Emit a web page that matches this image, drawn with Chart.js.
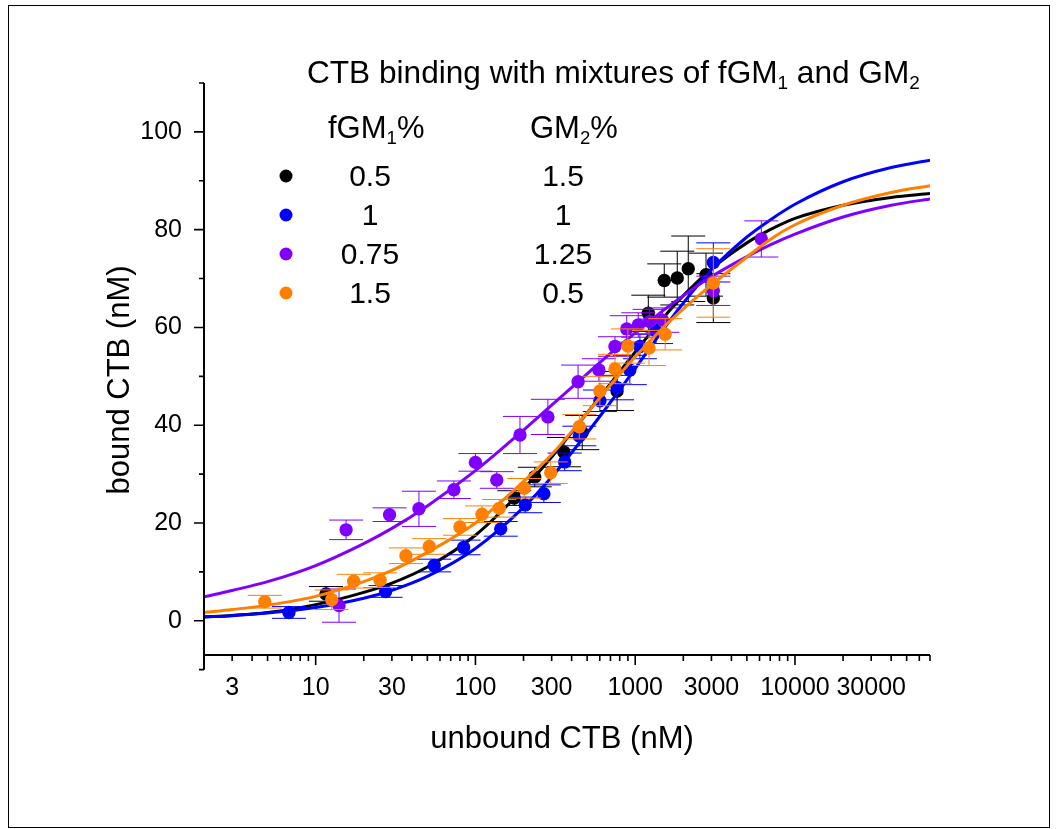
<!DOCTYPE html>
<html><head><meta charset="utf-8">
<script src="https://cdn.jsdelivr.net/npm/chart.js@4.4.1/dist/chart.umd.min.js"></script>
<style>
html,body{margin:0;padding:0;background:#fff;}
#wrap{position:relative;width:1059px;height:829px;overflow:hidden;font-family:"Liberation Sans",Arial,sans-serif;color:#000;}
#c{position:absolute;left:0;top:0;}
.frame{position:absolute;left:8px;top:5px;width:1042px;height:823px;border:1px solid #000;box-sizing:border-box;}
.t{position:absolute;white-space:nowrap;line-height:1;}
.cc{transform:translate(-50%,-50%);}
.vc{transform:translate(0,-50%);}
.sub{font-size:0.6em;vertical-align:-0.3em;}
.dot{position:absolute;width:13px;height:13px;border-radius:50%;transform:translate(-50%,-50%);}
</style></head><body>
<div id="wrap">
<canvas id="c" width="1059" height="829"></canvas>
<div class="frame"></div>
<div class="t vc" style="left:307px;top:75px;font-size:31.6px;">CTB binding with mixtures of fGM<span class="sub">1</span> and GM<span class="sub">2</span></div>
<div class="t vc" style="left:328px;top:130px;font-size:31px;">fGM<span class="sub">1</span>%</div>
<div class="t vc" style="left:530px;top:130px;font-size:31px;">GM<span class="sub">2</span>%</div>
<div class="t cc" style="left:562px;top:737px;font-size:31px;">unbound CTB (nM)</div>
<div class="t" style="left:118px;top:380px;font-size:31px;transform:translate(-50%,-50%) rotate(-90deg);">bound CTB (nM)</div>
<div id="legend"></div>
</div>
<script>
// ---- data ----
const seriesNames = ['fGM1 0.5 / GM2 1.5','fGM1 1 / GM2 1','fGM1 0.75 / GM2 1.25','fGM1 1.5 / GM2 0.5'];
const legendFGM = ['0.5','1','0.75','1.5'];
const legendGM  = ['1.5','1','1.25','0.5'];
const seriesColors = ['#000000','#0000FF','#8000FF','#FF8000'];

// black: fGM1 0.5 %, GM2 1.5 %
const blackX = [11.6, 175, 235, 358, 466, 770, 1208, 1520, 1833, 2148, 2775, 3083];
const blackY = [5.5, 25.1, 29.4, 34.5, 38.5, 47.0, 62.9, 69.6, 70.1, 72.0, 70.8, 66.0];
const blackErr = [1.5, 1.5, 2.0, 3.0, 3.5, 4.0, 3.7, 3.4, 5.5, 6.7, 4.4, 5.0];
// blue: fGM1 1 %, GM2 1 %
const blueX = [6.8, 27.4, 55.2, 84.3, 144, 205, 268, 362, 447, 601, 770, 925, 1070, 1350, 3083];
const blueY = [1.7, 6.0, 11.3, 15.0, 18.8, 23.7, 26.0, 32.5, 37.8, 45.0, 47.7, 51.3, 56.1, 59.2, 73.3];
const blueErr = [1.2, 1.2, 1.3, 1.5, 1.5, 1.6, 1.8, 1.8, 2.0, 2.2, 2.5, 3.0, 2.5, 2.5, 4.0];
// purple: fGM1 0.75 %, GM2 1.25 %
const purpleX = [14, 15.5, 29, 44.3, 73.3, 100, 136, 190, 284, 439, 593, 747, 885, 1045, 1232, 1480, 3083, 6157];
const purpleY = [3.1, 18.6, 21.7, 22.9, 26.8, 32.4, 28.8, 38.0, 41.7, 48.9, 51.3, 56.1, 59.7, 60.5, 61.2, 61.5, 67.5, 78.1];
const purpleErr = [3.4, 2.0, 1.4, 3.6, 1.8, 1.8, 1.7, 3.8, 3.6, 3.4, 2.3, 2.0, 2.7, 2.5, 2.5, 2.5, 3.0, 3.7];
// orange: fGM1 1.5 %, GM2 0.5 %
const orangeX = [4.8, 12.6, 17.3, 25.3, 36.7, 51.4, 80, 110, 141, 202, 296, 447, 601, 747, 900, 1220, 1540, 3083];
const orangeY = [3.9, 4.3, 8.1, 8.3, 13.3, 15.2, 19.2, 21.8, 23.0, 27.1, 30.3, 39.7, 47.0, 51.5, 56.2, 55.8, 58.6, 69.1];
const orangeErr = [1.3, 2.0, 1.4, 1.5, 1.6, 1.6, 1.7, 1.7, 1.8, 2.0, 2.2, 2.5, 3.0, 3.0, 3.5, 3.6, 3.2, 7.0];

// fitted curves at these x values
const curveX = [2, 3, 5, 10, 20, 30, 50, 100, 200, 300, 500, 700, 1000, 1500, 2000, 3000, 5000, 7000, 10000, 20000, 40000, 70000];
const blackCurve  = [0.8, 1.1, 1.7, 3.3, 5.8, 7.7, 11, 17.5, 27, 33.5, 42.5, 48.5, 55, 62, 66.5, 72, 77.3, 80.0, 82.3, 85.0, 86.6, 87.4];
const blueCurve   = [0.76, 1.05, 1.57, 2.7, 4.6, 6.25, 9.1, 14.8, 23.2, 29.4, 38.4, 44.7, 51.6, 59.6, 65.0, 71.8, 78.5, 82.0, 85.2, 89.8, 92.7, 94.2];
const purpleCurve = [4.9, 6.2, 8.0, 11.3, 15.8, 18.9, 23.5, 30.7, 39.0, 44.1, 50.5, 54.7, 58.9, 63.5, 66.5, 70.4, 74.5, 76.9, 79.1, 82.6, 85.0, 86.3];
const orangeCurve = [1.7, 2.3, 3.2, 5.0, 8.0, 10.3, 14, 20, 28.5, 34, 42.5, 48.2, 54, 60, 63.8, 68.7, 74.4, 78.0, 81, 85, 87.6, 89];

// axes
const xTickLabels = [3, 10, 30, 100, 300, 1000, 3000, 10000, 30000];
const yTickLabels = [0, 20, 40, 60, 80, 100];
const X_MIN = 2, X_MAX = 70000;
const Y_MIN = -7, Y_MAX = 110, Y_AXIS_EXT = -10;

const series = [
  {x: blackX, y: blackY, e: blackErr, curve: blackCurve},
  {x: blueX, y: blueY, e: blueErr, curve: blueCurve},
  {x: purpleX, y: purpleY, e: purpleErr, curve: purpleCurve},
  {x: orangeX, y: orangeY, e: orangeErr, curve: orangeCurve}
];

// legend (HTML text)
const leg = document.getElementById('legend');
const rowY = [176, 215, 254, 293];
legendFGM.forEach((v, i) => {
  const d = document.createElement('div'); d.className = 'dot';
  d.style.left = '286px'; d.style.top = rowY[i] + 'px'; d.style.background = seriesColors[i];
  leg.appendChild(d);
  const a = document.createElement('div'); a.className = 't cc';
  a.style.cssText += 'left:370px;top:' + rowY[i] + 'px;font-size:30px;'; a.textContent = v; leg.appendChild(a);
  const b = document.createElement('div'); b.className = 't cc';
  b.style.cssText += 'left:563px;top:' + rowY[i] + 'px;font-size:30px;'; b.textContent = legendGM[i]; leg.appendChild(b);
});

const FONT = '"Liberation Sans", Arial, sans-serif';
const datasets = [];
series.forEach((s, i) => {
  datasets.push({
    label: seriesNames[i] + ' points',
    data: s.x.map((x, j) => ({x: x, y: s.y[j]})),
    showLine: false, pointRadius: 6.7, pointBorderWidth: 0,
    backgroundColor: seriesColors[i], borderColor: seriesColors[i],
    errY: s.e, order: 8 - 2 * i
  });
  datasets.push({
    label: seriesNames[i] + ' fit',
    data: curveX.map((x, j) => ({x: x, y: s.curve[j]})),
    showLine: true, pointRadius: 0, borderWidth: 3, borderColor: seriesColors[i],
    backgroundColor: seriesColors[i], cubicInterpolationMode: 'monotone', fill: false,
    order: 7 - 2 * i
  });
});

const errorBars = {
  id: 'errorBars',
  beforeDatasetDraw(chart, args) {
    const ds = chart.data.datasets[args.index];
    if (!ds.errY) return;
    const xs = chart.scales.x, ys = chart.scales.y, ctx = chart.ctx;
    ctx.save();
    ctx.strokeStyle = ds.borderColor; ctx.lineWidth = 1;
    ds.data.forEach((p, j) => {
      const px = xs.getPixelForValue(p.x);
      const y1 = ys.getPixelForValue(p.y + ds.errY[j]);
      const y2 = ys.getPixelForValue(p.y - ds.errY[j]);
      const cw = 17;
      ctx.beginPath();
      ctx.moveTo(px, y1); ctx.lineTo(px, y2);
      ctx.moveTo(px - cw, y1); ctx.lineTo(px + cw, y1);
      ctx.moveTo(px - cw, y2); ctx.lineTo(px + cw, y2);
      ctx.stroke();
    });
    ctx.restore();
  }
};

const axisDecor = {
  id: 'axisDecor',
  afterDraw(chart) {
    const ctx = chart.ctx, xs = chart.scales.x, ys = chart.scales.y, ca = chart.chartArea;
    ctx.save();
    ctx.strokeStyle = '#000'; ctx.lineWidth = 2; ctx.lineCap = 'butt';
    ctx.beginPath();
    ctx.moveTo(ca.left, ys.getPixelForValue(Y_MAX));
    ctx.lineTo(ca.left, ys.getPixelForValue(Y_AXIS_EXT));
    ctx.moveTo(ca.left - 1, ca.bottom);
    ctx.lineTo(ca.right, ca.bottom);
    ctx.stroke();
    ctx.lineWidth = 1.6;
    ctx.beginPath();
    for (let v = Y_AXIS_EXT; v <= Y_MAX; v += 10) {
      const py = ys.getPixelForValue(v);
      const major = (v % 20 === 0) && v >= 0 && v <= 100;
      ctx.moveTo(ca.left, py); ctx.lineTo(ca.left - (major ? 10 : 5), py);
    }
    for (let d = 1; d <= 10000; d *= 10) {
      for (let m = 1; m <= 9; m++) {
        const v = d * m;
        if (v < X_MIN || v > X_MAX) continue;
        const px = xs.getPixelForValue(v);
        ctx.moveTo(px, ca.bottom); ctx.lineTo(px, ca.bottom + (m === 1 ? 10 : 6));
      }
    }
    ctx.stroke();
    ctx.restore();
  }
};

new Chart(document.getElementById('c'), {
  type: 'scatter',
  data: {datasets: datasets},
  plugins: [errorBars, axisDecor],
  options: {
    responsive: false, animation: false, devicePixelRatio: 1,
    layout: {padding: {left: 0, top: 83, right: 129, bottom: 74}},
    plugins: {legend: {display: false}, tooltip: {enabled: false}},
    scales: {
      x: {
        type: 'logarithmic', position: 'bottom', min: X_MIN, max: X_MAX,
        afterBuildTicks: s => { s.ticks = xTickLabels.map(v => ({value: v})); },
        afterFit: s => { s.height = 100; },
        grid: {display: false, drawTicks: false}, border: {display: false},
        ticks: {autoSkip: false, maxRotation: 0, minRotation: 0, padding: 18, color: '#000',
          font: {family: FONT, size: 25}, callback: v => String(v)}
      },
      y: {
        type: 'linear', position: 'left', min: Y_MIN, max: Y_MAX,
        afterBuildTicks: s => { s.ticks = yTickLabels.map(v => ({value: v})); },
        afterFit: s => { s.width = 204; },
        grid: {display: false, drawTicks: false}, border: {display: false},
        ticks: {padding: 22, color: '#000', font: {family: FONT, size: 25}, callback: v => String(v)}
      }
    }
  }
});
</script>
</body></html>
